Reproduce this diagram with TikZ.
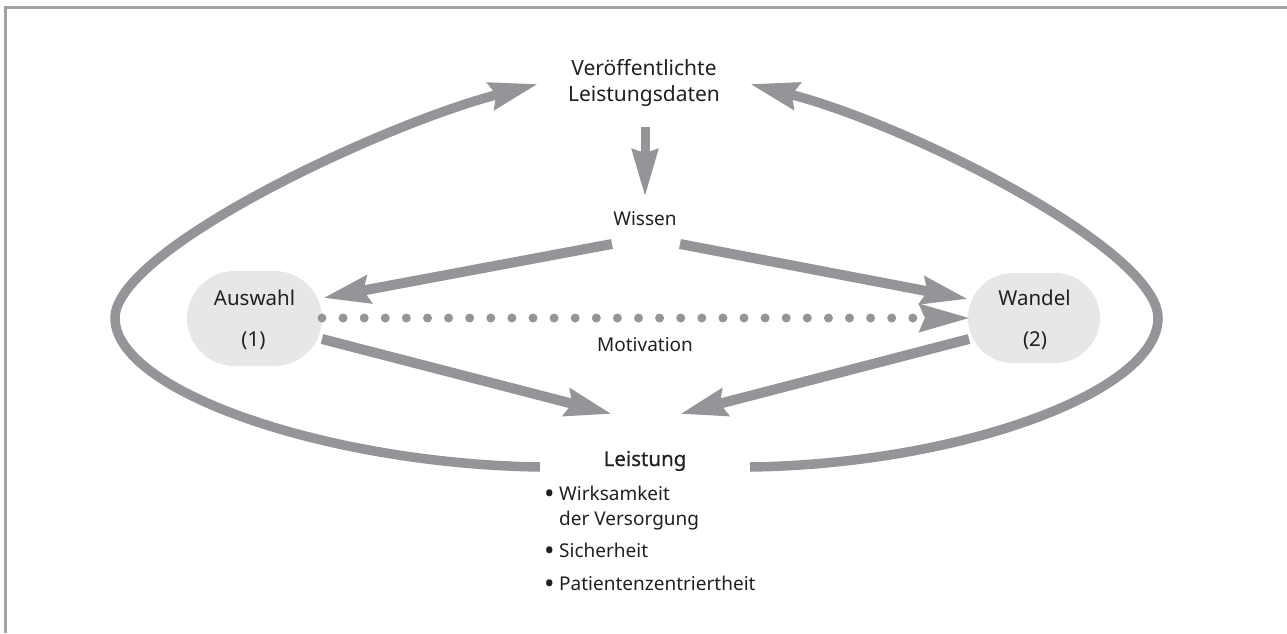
\documentclass[tikz,border=0pt]{standalone}
\usepackage{fontspec}
\setmainfont{Noto Sans}
\newfontfamily\medfont[FakeBold=0.7]{Noto Sans}
\usetikzlibrary{arrows.meta,shapes.misc}
\definecolor{agray}{HTML}{939598}
\definecolor{nfill}{HTML}{E6E7E8}
\definecolor{txt}{HTML}{231F20}
\definecolor{framec}{HTML}{A0A2A5}
\newcommand{\bigbul}{\makebox[15pt][l]{\raisebox{-3.5pt}{\fontsize{28}{23}\selectfont •}}}
\begin{document}
\begin{tikzpicture}[x=1pt,y=-1pt,
  title/.style={inner sep=0pt, text=txt, anchor=base, font=\fontsize{21}{25}\selectfont},
  lbl/.style={inner sep=0pt, text=txt, anchor=base, font=\fontsize{20.5}{24}\selectfont},
  small/.style={inner sep=0pt, text=txt, anchor=base, font=\fontsize{19}{23}\selectfont},
  item/.style={inner sep=0pt, text=txt, anchor=base west, font=\fontsize{19}{23}\selectfont},
  box/.style={rounded rectangle, fill=nfill, draw=none, minimum width=135pt, minimum height=95pt, inner sep=0pt},
  fat/.style={draw=agray, line width=10pt, -{Stealth[length=46pt,width=27pt,inset=5pt]}},
  loopline/.style={draw=agray, line width=9.5pt, -{Stealth[length=48pt,width=27pt,inset=5pt]}},
  dotline/.style={draw=agray, line width=9pt, line cap=round, dash pattern=on 0pt off 21.1pt,
     -{Stealth[length=50pt,width=27pt,inset=5pt]}},
]
\useasboundingbox (0,0) rectangle (1287,633);
% frame (top and left only)
\draw[framec, line width=3pt] (5.3,633) -- (5.3,7.5) -- (1287,7.5);

% boxes
\node[box] (auswahl) at (254.5,318.5) {};
\node[box, minimum width=132pt, minimum height=90pt] (wandel) at (1034,318) {};

% texts
\node[title] (pub) at (644,75.7) {Veröffentlichte};
\node[title] (pub2) at (644,101) {Leistungsdaten};
\node[small] (wissen) at (645,225) {Wissen};
\node[lbl] (auswahlT) at (254.5,305.7) {Auswahl};
\node[lbl] (auswahlN) at (253.5,346) {(1)};
\node[lbl] (wandelT) at (1034.5,305.7) {Wandel};
\node[lbl] (wandelN) at (1035,346) {(2)};
\node[small] (motiv) at (645,351) {Motivation};
\node[lbl, font=\medfont\fontsize{20.5}{24}\selectfont] (leist) at (645,466) {Leistung};
\node[item] (l1) at (544,500) {\bigbul Wirksamkeit};
\node[item] (l1b) at (559,525) {der Versorgung};
\node[item] (l2) at (544,557) {\bigbul Sicherheit};
\node[item] (l3) at (544,590) {\bigbul Patientenzentriertheit};

% connector end points
\coordinate (dTop) at (645,127);
\coordinate (dTip) at (645,197);
\coordinate (wiL) at (612,244);
\coordinate (auIn) at (323,298);
\coordinate (wiR) at (680,244);
\coordinate (waIn) at (968,299);
\coordinate (auOut) at (322,339);
\coordinate (leL) at (612,414);
\coordinate (waOut) at (969,339);
\coordinate (leR) at (680,414);
\coordinate (auDot) at (322,318);
\coordinate (waDot) at (970,318);
\coordinate (leLoopL) at (540,467);
\coordinate (leLoopR) at (750,467);
\coordinate (pubL) at (538,84);
\coordinate (pubR) at (750,84);

% down arrow
\draw[draw=agray, line width=9pt, -{Stealth[length=47pt,width=25pt,inset=3pt]}] (dTop) -- (dTip);
% straight arrows
\draw[fat] (wiL) -- (auIn);
\draw[fat] (wiR) -- (waIn);
\draw[fat] (auOut) -- (leL);
\draw[fat] (waOut) -- (leR);
% dotted motivation arrow
\draw[dotline] (auDot) -- (waDot);
% loops
\draw[loopline] (leLoopL) .. controls (330,464) and (115,392) .. (115,318)
   .. controls (115,250) and (380,125) .. (pubL);
\draw[loopline] (leLoopR) .. controls (960,464) and (1158,392) .. (1158,318)
   .. controls (1158,250) and (910,125) .. (pubR);
\end{tikzpicture}
\end{document}
